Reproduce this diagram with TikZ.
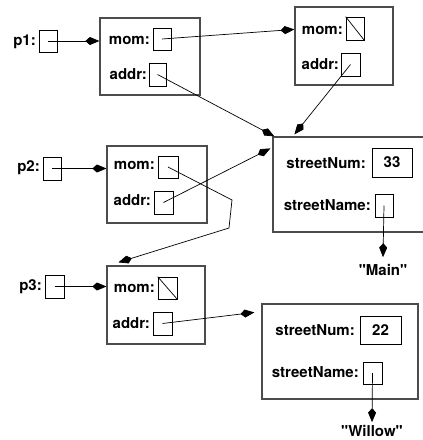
\documentclass[tikz,border=0pt]{standalone}
\usepackage{fontspec}
\setmainfont{TeX Gyre Heros}
\usetikzlibrary{arrows.meta}
\tikzset{
  cell/.style={draw, line width=0.7pt, minimum width=18pt, minimum height=22pt, inner sep=0pt},
  obj/.style={draw=black!70, line width=1.2pt, inner sep=0pt},
  lbl/.style={inner sep=1pt, font=\fontsize{15}{17}\selectfont\bfseries},
  ptr/.style={line width=0.7pt, -{Kite[length=14pt,width=8pt,inset=4.5pt]}},
  nul/.style={line width=0.7pt}
}
\begin{document}
\begin{tikzpicture}[x=1pt, y=-1pt]
  \useasboundingbox (0,0) rectangle (423,440);
  % object boxes
  \node[obj, minimum width=100pt, minimum height=77pt] (o1) at (150,56.5) {};
  \node[obj, minimum width=98pt, minimum height=78pt] (o2) at (344,46) {};
  \node[obj, minimum width=100pt, minimum height=77pt] (o3) at (157,184.5) {};
  \node[obj, minimum width=98pt, minimum height=78pt] (o4) at (156,305) {};
  \node[obj, minimum width=154pt, minimum height=95pt] (a1) at (350,184.5) {};
  \node[obj, minimum width=156pt, minimum height=95pt] (a2) at (340,351.5) {};
  % variables
  \node[lbl, anchor=east] (p1) at (37,42) {p1:};
  \node[cell] (p1c) at (48,41) {};
  \node[lbl, anchor=east] (p2) at (41,168) {p2:};
  \node[cell, minimum height=23pt] (p2c) at (52,168.5) {};
  \node[lbl, anchor=east] (p3) at (43,287) {p3:};
  \node[cell, minimum width=19pt, minimum height=23pt] (p3c) at (54.5,286.5) {};
  % fields of o1
  \node[lbl, anchor=east] (o1m) at (151,40) {mom:};
  \node[cell] (o1mc) at (162,39) {};
  \node[lbl, anchor=east] (o1a) at (148,74) {addr:};
  \node[cell, minimum width=17pt, minimum height=23pt] (o1ac) at (157.5,74.5) {};
  % fields of o2
  \node[lbl, anchor=east] (o2m) at (344,30) {mom:};
  \node[cell, minimum height=23pt] (o2mc) at (355,28.5) {};
  \node[lbl, anchor=east] (o2a) at (340,64) {addr:};
  \node[cell, minimum width=19pt, minimum height=23pt] (o2ac) at (350.5,64.5) {};
  % fields of o3
  \node[lbl, anchor=east] (o3m) at (156,165) {mom:};
  \node[cell, minimum width=20pt] (o3mc) at (168,167) {};
  \node[lbl, anchor=east] (o3a) at (152,200) {addr:};
  \node[cell, minimum width=19pt, minimum height=23pt] (o3ac) at (163.5,202.5) {};
  % fields of o4
  \node[lbl, anchor=east] (o4m) at (156,288) {mom:};
  \node[cell, minimum width=19pt] (o4mc) at (167.5,288) {};
  \node[lbl, anchor=east] (o4a) at (151,323) {addr:};
  \node[cell, minimum width=19pt, minimum height=23pt] (o4ac) at (162.5,323.5) {};
  % fields of a1
  \node[lbl, anchor=east] (a1n) at (367,163) {streetNum:};
  \node[cell, lbl, inner sep=0pt, minimum width=40pt, minimum height=29pt] (a1nc) at (392,162.5) {33};
  \node[lbl, anchor=east] (a1s) at (372,205) {streetName:};
  \node[cell, minimum height=23pt] (a1sc) at (384,205.5) {};
  \node[lbl] (main) at (383,270) {\textquotedbl Main\textquotedbl};
  % fields of a2
  \node[lbl, anchor=east] (a2n) at (356,330) {streetNum:};
  \node[cell, lbl, inner sep=0pt, minimum width=41pt, minimum height=28pt] (a2nc) at (380.5,330) {22};
  \node[lbl, anchor=east] (a2s) at (360,372) {streetName:};
  \node[cell, minimum width=19pt] (a2sc) at (372.5,373) {};
  \node[lbl] (willow) at (372,431) {\textquotedbl Willow\textquotedbl};
  % null pointers
  \draw[nul] (o2mc.north west) -- (o2mc.south east);
  \draw[nul] (o4mc.north west) -- (o4mc.south east);
  % pointers
  \draw[ptr] (p1c.center) -- (p1c.center -| o1.west);
  \draw[ptr] (p2c.center) -- (p2c.center -| o3.west);
  \draw[ptr] (p3c.center) -- (p3c.center -| o4.west);
  \draw[ptr] (o1mc.center) -- ([yshift=-23pt]o2.north west);
  \draw[ptr] (o1ac.center) -- ([xshift=2pt]a1.north west);
  \draw[ptr] (o2ac.center) -- ([xshift=22pt,yshift=2pt]a1.north west);
  \draw[ptr] (o3ac.center) -- ([xshift=-2pt,yshift=-12pt]a1.north west);
  \draw[ptr] (o3mc.center) -- (232,200) -- (229,228) -- ([xshift=12pt,yshift=3pt]o4.north west);
  \draw[ptr] (o4ac.center) -- ([xshift=-7pt,yshift=-9pt]a2.north west);
  \draw[ptr] (a1sc.center) -- ([yshift=6pt]main.north);
  \draw[ptr] (a2sc.center) -- ([yshift=2pt]willow.north);
\end{tikzpicture}
\end{document}
